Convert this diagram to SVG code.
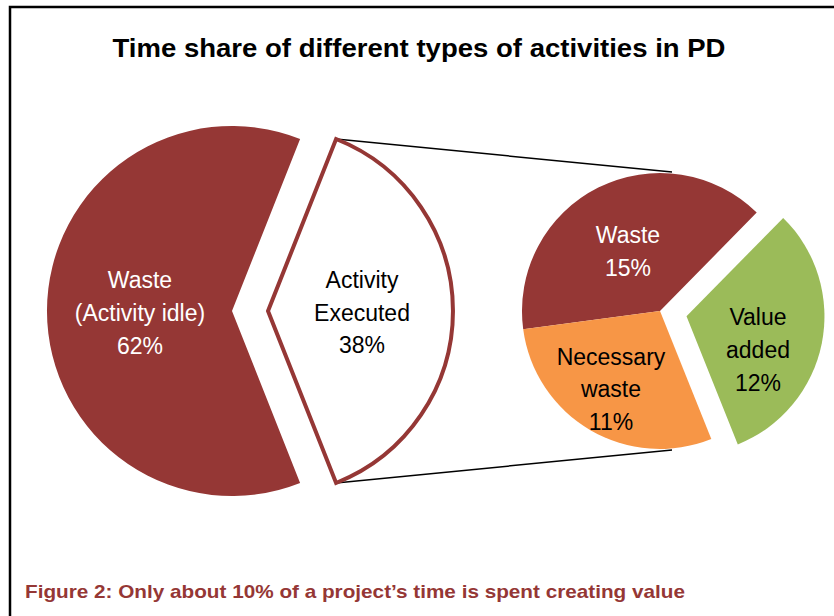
<svg xmlns="http://www.w3.org/2000/svg" width="834" height="616" viewBox="0 0 834 616">
<style>
.lbl{font-family:"Liberation Sans",Arial,sans-serif;font-size:23px;text-anchor:middle}
.w{fill:#ffffff}
.k{fill:#000000}
.red{fill:#953735}
.conn{stroke:#000000;stroke-width:1.5;fill:none}
</style>
<rect x="0" y="0" width="834" height="616" fill="#ffffff"/>
<g id="frame">
<path d="M10 616 V7 H834" fill="none" stroke="#000000" stroke-width="2.5"/>
</g>
<g id="title">
<text x="419" y="57" font-family="'Liberation Sans',Arial,sans-serif" font-weight="bold" font-size="26" text-anchor="middle" textLength="613" lengthAdjust="spacingAndGlyphs">Time share of different types of activities in PD</text>
</g>
<g id="connectors">
<line class="conn" x1="336" y1="139" x2="672" y2="172"/>
<line class="conn" x1="336" y1="483" x2="672" y2="450"/>
</g>
<g id="waste-idle">
<path class="red" d="M232 311 L300.1 483 A185 185 0 1 1 300.1 139 Z"/>
<text class="lbl w" x="140" y="288">Waste</text>
<text class="lbl w" x="140" y="321">(Activity idle)</text>
<text class="lbl w" x="140" y="354">62%</text>
</g>
<g id="activity-executed">
<path d="M268 311 L336.1 139 A185 185 0 0 1 336.1 483 Z" fill="#ffffff" stroke="#953735" stroke-width="4" stroke-linejoin="miter"/>
<text class="lbl k" x="362" y="288">Activity</text>
<text class="lbl k" x="362" y="321">Executed</text>
<text class="lbl k" x="362" y="353">38%</text>
</g>
<g id="waste">
<path class="red" d="M660 311 L523.2 329.3 A138 138 0 0 1 756.7 212.6 Z"/>
<text class="lbl w" x="628" y="243">Waste</text>
<text class="lbl w" x="628" y="276">15%</text>
</g>
<g id="necessary-waste">
<path d="M660 311 L711.3 439.1 A138 138 0 0 1 523.2 329.3 Z" fill="#F79646"/>
<text class="lbl k" x="611" y="365">Necessary</text>
<text class="lbl k" x="611" y="397">waste</text>
<text class="lbl k" x="611" y="430">11%</text>
</g>
<g id="value-added">
<path d="M686.5 316.3 L783.2 217.9 A138 138 0 0 1 737.8 444.4 Z" fill="#9BBB59"/>
<text class="lbl k" x="758" y="325">Value</text>
<text class="lbl k" x="758" y="358">added</text>
<text class="lbl k" x="758" y="391">12%</text>
</g>
<g id="caption">
<text x="25" y="598" font-family="'Liberation Sans',Arial,sans-serif" font-weight="bold" font-size="19" fill="#953735" textLength="660" lengthAdjust="spacingAndGlyphs">Figure 2: Only about 10% of a project’s time is spent creating value</text>
</g>
</svg>
